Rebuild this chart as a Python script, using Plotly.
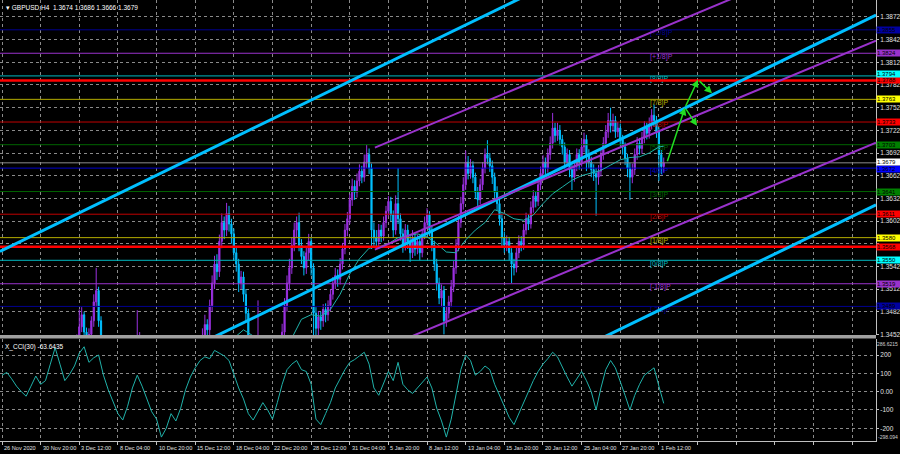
import plotly.graph_objects as go

# ---------------- data ----------------
symbol_title = "\u25be GBPUSD,H4  1.3674 1.3686 1.3666 1.3679"
cci_title = "X_CCI(30) -63.6435"

first_open = 1.3338
closes = [
    1.3345, 1.3352, 1.3340, 1.3348, 1.3336, 1.3328, 1.3322, 1.3330, 1.3318, 1.3305,
    1.3312, 1.3320, 1.3340, 1.3365, 1.3380, 1.3372, 1.3350, 1.3335, 1.3348, 1.3370,
    1.3392, 1.3410, 1.3425, 1.3405, 1.3395, 1.3380, 1.3372, 1.3388, 1.3400, 1.3415,
    1.3430, 1.3445, 1.3462, 1.3478, 1.3455, 1.3440, 1.3452, 1.3470, 1.3495, 1.3510,
    1.3470, 1.3440, 1.3420, 1.3395, 1.3380, 1.3360, 1.3330, 1.3300, 1.3270, 1.3250,
    1.3280, 1.3310, 1.3345, 1.3370, 1.3395, 1.3410, 1.3440, 1.3446, 1.3405, 1.3370,
    1.3330, 1.3290, 1.3260, 1.3230, 1.3250, 1.3235, 1.3210, 1.3185, 1.3160, 1.3175,
    1.3200, 1.3180, 1.3150, 1.3140, 1.3170, 1.3210, 1.3260, 1.3300, 1.3330, 1.3360,
    1.3385, 1.3410, 1.3435, 1.3448, 1.3465, 1.3458, 1.3490, 1.3520, 1.3545, 1.3535,
    1.3575, 1.3600, 1.3590, 1.3612, 1.3598, 1.3585, 1.3560, 1.3545, 1.3520, 1.3528,
    1.3505, 1.3480, 1.3430, 1.3400, 1.3380, 1.3420, 1.3440, 1.3405, 1.3360, 1.3300,
    1.3250, 1.3210, 1.3190, 1.3250, 1.3310, 1.3380, 1.3455, 1.3490, 1.3520, 1.3540,
    1.3570, 1.3590, 1.3600, 1.3570, 1.3555, 1.3540, 1.3560, 1.3575, 1.3540, 1.3480,
    1.3460, 1.3475, 1.3470, 1.3485, 1.3478, 1.3490, 1.3505, 1.3520, 1.3530, 1.3525,
    1.3545, 1.3565, 1.3590, 1.3605, 1.3630, 1.3648, 1.3640, 1.3655, 1.3668, 1.3660,
    1.3680, 1.3690, 1.3672, 1.3590, 1.3580, 1.3575, 1.3590, 1.3582, 1.3600, 1.3615,
    1.3628, 1.3610, 1.3590, 1.3625, 1.3605, 1.3585, 1.3570, 1.3590, 1.3575, 1.3560,
    1.3580, 1.3565, 1.3575, 1.3560, 1.3585, 1.3600, 1.3610, 1.3590, 1.3570, 1.3545,
    1.3520, 1.3500, 1.3510, 1.3470, 1.3480, 1.3495, 1.3515, 1.3540, 1.3570, 1.3600,
    1.3625, 1.3650, 1.3680, 1.3665, 1.3675, 1.3660, 1.3640, 1.3630, 1.3650, 1.3672,
    1.3690, 1.3685, 1.3675, 1.3660, 1.3640, 1.3625, 1.3605, 1.3580, 1.3570, 1.3575,
    1.3560, 1.3545, 1.3540, 1.3560, 1.3575, 1.3570, 1.3590, 1.3605, 1.3598, 1.3620,
    1.3635, 1.3628, 1.3650, 1.3665, 1.3680, 1.3672, 1.3690, 1.3705, 1.3725, 1.3715,
    1.3722, 1.3710, 1.3700, 1.3680, 1.3690, 1.3670, 1.3660, 1.3675, 1.3690, 1.3680,
    1.3700, 1.3710, 1.3690, 1.3680, 1.3670, 1.3665, 1.3660, 1.3668, 1.3690, 1.3705,
    1.3720, 1.3735, 1.3728, 1.3735, 1.3720, 1.3725, 1.3710, 1.3700, 1.3685, 1.3672,
    1.3660, 1.3670, 1.3690, 1.3705, 1.3698, 1.3712, 1.3725, 1.3718, 1.3730, 1.3742,
    1.3735, 1.3720, 1.3690, 1.3674, 1.3679,
]
highs = [
    1.3352, 1.3360, 1.3358, 1.3355, 1.3353, 1.3341, 1.3334, 1.3337, 1.3336, 1.3324,
    1.3320, 1.3327, 1.3348, 1.3374, 1.3392, 1.3388, 1.3378, 1.3356, 1.3355, 1.3378,
    1.3401, 1.3419, 1.3438, 1.3432, 1.3412, 1.3401, 1.3387, 1.3394, 1.3408, 1.3422,
    1.3437, 1.3452, 1.3485, 1.3488, 1.3482, 1.3461, 1.3460, 1.3476, 1.3505, 1.3540,
    1.3515, 1.3476, 1.3446, 1.3426, 1.3402, 1.3386, 1.3366, 1.3336, 1.3306, 1.3276,
    1.3288, 1.3318, 1.3352, 1.3379, 1.3404, 1.3420, 1.3484, 1.3455, 1.3450, 1.3411,
    1.3377, 1.3336, 1.3297, 1.3266, 1.3258, 1.3257, 1.3241, 1.3216, 1.3191, 1.3183,
    1.3208, 1.3206, 1.3186, 1.3157, 1.3178, 1.3218, 1.3268, 1.3309, 1.3338, 1.3368,
    1.3394, 1.3420, 1.3446, 1.3460, 1.3478, 1.3472, 1.3498, 1.3530, 1.3556, 1.3558,
    1.3584, 1.3612, 1.3608, 1.3626, 1.3622, 1.3605, 1.3592, 1.3568, 1.3552, 1.3536,
    1.3535, 1.3512, 1.3486, 1.3437, 1.3408, 1.3428, 1.3497, 1.3448, 1.3412, 1.3367,
    1.3308, 1.3258, 1.3218, 1.3260, 1.3320, 1.3390, 1.3466, 1.3500, 1.3530, 1.3552,
    1.3580, 1.3600, 1.3608, 1.3613, 1.3578, 1.3562, 1.3568, 1.3585, 1.3580, 1.3546,
    1.3488, 1.3483, 1.3482, 1.3492, 1.3493, 1.3497, 1.3512, 1.3528, 1.3540, 1.3538,
    1.3553, 1.3573, 1.3598, 1.3614, 1.3638, 1.3658, 1.3656, 1.3665, 1.3677, 1.3675,
    1.3690, 1.3703, 1.3698, 1.3678, 1.3600, 1.3590, 1.3598, 1.3597, 1.3608, 1.3622,
    1.3635, 1.3634, 1.3616, 1.3636, 1.3672, 1.3612, 1.3592, 1.3598, 1.3597, 1.3582,
    1.3590, 1.3586, 1.3584, 1.3581, 1.3592, 1.3608, 1.3619, 1.3615, 1.3596, 1.3576,
    1.3552, 1.3527, 1.3518, 1.3516, 1.3489, 1.3503, 1.3524, 1.3549, 1.3578, 1.3609,
    1.3634, 1.3660, 1.3695, 1.3688, 1.3684, 1.3681, 1.3666, 1.3647, 1.3658, 1.3680,
    1.3698, 1.3709, 1.3692, 1.3682, 1.3666, 1.3648, 1.3632, 1.3612, 1.3588, 1.3583,
    1.3581, 1.3566, 1.3552, 1.3568, 1.3583, 1.3582, 1.3598, 1.3613, 1.3611, 1.3628,
    1.3643, 1.3641, 1.3658, 1.3674, 1.3689, 1.3686, 1.3698, 1.3714, 1.3745, 1.3732,
    1.3732, 1.3729, 1.3716, 1.3706, 1.3698, 1.3696, 1.3677, 1.3683, 1.3698, 1.3697,
    1.3710, 1.3719, 1.3716, 1.3697, 1.3687, 1.3677, 1.3672, 1.3676, 1.3698, 1.3713,
    1.3729, 1.3745, 1.3752, 1.3744, 1.3741, 1.3733, 1.3731, 1.3716, 1.3706, 1.3691,
    1.3679, 1.3678, 1.3698, 1.3713, 1.3712, 1.3720, 1.3734, 1.3732, 1.3739, 1.3750,
    1.3756, 1.3741, 1.3726, 1.3696, 1.3686,
]
lows = [
    1.3331, 1.3339, 1.3333, 1.3334, 1.3330, 1.3320, 1.3313, 1.3316, 1.3309, 1.3296,
    1.3299, 1.3306, 1.3314, 1.3334, 1.3358, 1.3363, 1.3342, 1.3326, 1.3329, 1.3342,
    1.3363, 1.3385, 1.3402, 1.3398, 1.3386, 1.3371, 1.3364, 1.3366, 1.3381, 1.3393,
    1.3408, 1.3421, 1.3438, 1.3455, 1.3447, 1.3430, 1.3432, 1.3445, 1.3462, 1.3488,
    1.3462, 1.3430, 1.3410, 1.3386, 1.3371, 1.3350, 1.3320, 1.3290, 1.3258, 1.3225,
    1.3242, 1.3272, 1.3303, 1.3338, 1.3362, 1.3388, 1.3402, 1.3432, 1.3398, 1.3360,
    1.3321, 1.3281, 1.3251, 1.3220, 1.3223, 1.3226, 1.3200, 1.3175, 1.3150, 1.3152,
    1.3168, 1.3171, 1.3141, 1.3134, 1.3133, 1.3163, 1.3203, 1.3252, 1.3292, 1.3322,
    1.3352, 1.3378, 1.3402, 1.3426, 1.3440, 1.3446, 1.3450, 1.3482, 1.3512, 1.3524,
    1.3528, 1.3566, 1.3578, 1.3582, 1.3588, 1.3572, 1.3550, 1.3535, 1.3508, 1.3512,
    1.3495, 1.3468, 1.3418, 1.3390, 1.3368, 1.3372, 1.3412, 1.3396, 1.3350, 1.3290,
    1.3238, 1.3198, 1.3186, 1.3184, 1.3242, 1.3302, 1.3372, 1.3446, 1.3482, 1.3510,
    1.3532, 1.3562, 1.3580, 1.3562, 1.3545, 1.3530, 1.3532, 1.3550, 1.3530, 1.3440,
    1.3432, 1.3450, 1.3458, 1.3462, 1.3468, 1.3470, 1.3483, 1.3498, 1.3512, 1.3515,
    1.3518, 1.3538, 1.3558, 1.3582, 1.3598, 1.3622, 1.3630, 1.3633, 1.3648, 1.3652,
    1.3654, 1.3672, 1.3664, 1.3565, 1.3568, 1.3566, 1.3568, 1.3574, 1.3576, 1.3593,
    1.3608, 1.3602, 1.3580, 1.3584, 1.3598, 1.3576, 1.3560, 1.3563, 1.3565, 1.3548,
    1.3553, 1.3556, 1.3558, 1.3550, 1.3554, 1.3578, 1.3594, 1.3582, 1.3562, 1.3536,
    1.3510, 1.3492, 1.3488, 1.3452, 1.3462, 1.3473, 1.3488, 1.3508, 1.3532, 1.3562,
    1.3593, 1.3617, 1.3643, 1.3657, 1.3658, 1.3652, 1.3631, 1.3621, 1.3624, 1.3643,
    1.3665, 1.3677, 1.3667, 1.3651, 1.3632, 1.3616, 1.3596, 1.3568, 1.3560, 1.3562,
    1.3550, 1.3520, 1.3530, 1.3534, 1.3553, 1.3562, 1.3564, 1.3584, 1.3590, 1.3592,
    1.3613, 1.3620, 1.3622, 1.3643, 1.3658, 1.3664, 1.3666, 1.3683, 1.3698, 1.3706,
    1.3708, 1.3702, 1.3690, 1.3671, 1.3674, 1.3660, 1.3643, 1.3654, 1.3668, 1.3670,
    1.3674, 1.3693, 1.3668, 1.3672, 1.3660, 1.3655, 1.3609, 1.3650, 1.3661, 1.3683,
    1.3698, 1.3712, 1.3719, 1.3720, 1.3712, 1.3713, 1.3702, 1.3690, 1.3676, 1.3660,
    1.3630, 1.3652, 1.3663, 1.3683, 1.3690, 1.3691, 1.3705, 1.3710, 1.3711, 1.3723,
    1.3727, 1.3712, 1.3655, 1.3664, 1.3666,
]
green_body_bars = [33, 36, 57, 84, 85, 95, 99, 124, 131, 133, 134, 139, 146, 156, 157,
                   170, 172, 182, 194, 198, 201, 209, 212, 214, 221, 225, 230, 237, 239,
                   247, 262, 264, 267, 272]

ma_bars = list(range(28, 273, 4)) + [274]
ma_values = [
    1.3350, 1.3375, 1.3400, 1.3420, 1.3425, 1.3415, 1.3400, 1.3390, 1.3385, 1.3360,
    1.3330, 1.3300, 1.3285, 1.3290, 1.3320, 1.3360, 1.3410, 1.3447, 1.3458, 1.3450,
    1.3440, 1.3425, 1.3428, 1.3447, 1.3472, 1.3478, 1.3476, 1.3485, 1.3505, 1.3532,
    1.3552, 1.3566, 1.3568, 1.3572, 1.3580, 1.3583, 1.3585, 1.3581, 1.3572, 1.3561,
    1.3560, 1.3577, 1.3590, 1.3600, 1.3617, 1.3612, 1.3605, 1.3603, 1.3610, 1.3625,
    1.3638, 1.3647, 1.3656, 1.3662, 1.3666, 1.3669, 1.3676, 1.3683, 1.3686, 1.3687,
    1.3692, 1.3700, 1.3701,
]

cci_bars = list(range(0, 275, 2))
cci_values = [
    90, 105, 70, 30, 0, -25, 30, 85, 40, 60,
    150, 240, 150, 60, 95, 140, 210, 245, 160, 185,
    200, 90, 10, -60, -120, -155, -80, 20, 90, 30,
    -40, -110, -150, -248, -200, -120, -160, -90, 10, 80,
    130, 170, 190, 180, 225, 210, 195, 170, 90, 20,
    -40, -120, -155, -110, -60, -100, -150, -60, 40, 120,
    150, 170, 120, 110, 40, -150, -180, -120, -60, 20,
    70, 120, 160, 175, 195, 215, 150, 20, -20, 40,
    110, 60, 160, 40, 10, -10, 20, 50, 80, 20,
    -90, -160, -248, -150, -20, 120, 200, 170, 90, 110,
    140, 120, 40, -20, -80, -140, -180, -120, -60, 10,
    60, 110, 150, 180, 215, 190, 130, 80, 30, 70,
    110, 60, 0, -100, 20, 120, 170, 130, 60, -20,
    -100, -20, 40, 90, 110, 130, 30, -64,
]
cci_levels = [200, 100, 0, -100, -200]
cci_level_labels = ["200", "100", "0.00", "-100", "-200"]
cci_max_label = "286.6215"
cci_min_label = "-298.094"

date_tick_bars = [0, 16, 32, 48, 64, 80, 96, 112, 128, 144, 160, 176, 192, 208, 224, 240, 256, 272]
date_tick_labels = ["26 Nov 2020", "30 Nov 20:00", "3 Dec 12:00", "8 Dec 04:00", "10 Dec 20:00",
                    "15 Dec 12:00", "18 Dec 04:00", "22 Dec 20:00", "28 Dec 12:00", "31 Dec 04:00",
                    "5 Jan 20:00", "8 Jan 12:00", "13 Jan 04:00", "15 Jan 20:00", "20 Jan 12:00",
                    "25 Jan 04:00", "27 Jan 20:00", "1 Feb 12:00"]
grid_bars = date_tick_bars + [288, 304, 320, 336, 352]

price_ticks = [1.3452, 1.3482, 1.3512, 1.3542, 1.3572, 1.3602, 1.3632, 1.3662,
               1.3692, 1.3722, 1.3752, 1.3782, 1.3812, 1.3842, 1.3872]
hidden_price_ticks = [1.3572]   # covered by the 1.3568 level box in the reference

murrey_levels = [1.3855, 1.3824, 1.3794, 1.3763, 1.3733, 1.3703, 1.3672,
                 1.3641, 1.3611, 1.3580, 1.3550, 1.3519, 1.3489]
murrey_names = ["[+2/8]P", "[+1/8]P", "[8/8]P", "[7/8]P", "[6/8]P", "[5/8]P", "[4/8]P",
                "[3/8]P", "[2/8]P", "[1/8]P", "[0/8]P", "[-1/8]P", "[-2/8]P"]
murrey_line_colors = ["#000090", "#9932CC", "#00B8C0", "#B4AC00", "#C00000", "#006400", "#0000CD",
                      "#006400", "#C00000", "#B4AC00", "#00B8C0", "#9932CC", "#000090"]
murrey_box_colors = ["#0000A0", "#9932CC", "#00FFFF", "#FFFF00", "#FF0000", "#008000", "#0000FF",
                     "#008000", "#FF0000", "#FFFF00", "#00FFFF", "#9932CC", "#0000A0"]

sr_levels = [1.3788, 1.3568]
last_price = 1.3679

cyan_anchor_bar, cyan_anchor_price, cyan_slope, cyan_half = 119.3, 1.34975, 0.0001554, 0.0251
purple_start_bar, purple_anchor_bar, purple_anchor_price = 154.4, 218.6, 1.36497
purple_slope, purple_half = 0.0001333, 0.0135

forecast_from_bar = [275.3, 282.8, 282.8, 288.2]
forecast_from_price = [1.3679, 1.3752, 1.3752, 1.3789]
forecast_to_bar = [282.8, 287.8, 288.2, 294.0]
forecast_to_price = [1.3752, 1.3728, 1.3789, 1.3771]

# ---------------- layout constants ----------------
W, H = 900, 454
FONT = "Liberation Sans, Arial, sans-serif"
PURPLE = "#9B30E0"
CYAN = "#00BFFF"
GREEN = "#3CD23C"
TEAL = "#20B2AA"
GRID = "#8a8a8a"
AX = "#c0c0c0"
X_MIN, X_MAX = -0.83, 361.9
P_MIN, P_MAX = 1.345117, 1.389446
C_MIN, C_MAX = -269.3, 287.3
XR = 876 / W


def py(ypix):
    return (H - ypix) / H


bars = list(range(len(closes)))
opens = [first_open] + closes[:-1]

fig = go.Figure()

# Murrey math level lines (under the candles)
for lvl, col in zip(murrey_levels, murrey_line_colors):
    fig.add_trace(go.Scatter(x=[X_MIN, X_MAX], y=[lvl, lvl], mode="lines",
                             line=dict(color=col, width=1), hoverinfo="skip",
                             xaxis="x", yaxis="y"))
fig.add_trace(go.Scatter(x=[X_MIN, X_MAX], y=[last_price, last_price], mode="lines",
                         line=dict(color="#8c8c8c", width=1), hoverinfo="skip"))

# Murrey text labels
label_bar = 268.3
fig.add_trace(go.Scatter(x=[label_bar] * len(murrey_levels), y=murrey_levels, mode="text",
                         text=murrey_names, textposition="bottom right",
                         textfont=dict(color=murrey_line_colors, size=7, family=FONT),
                         hoverinfo="skip"))

# candles
fig.add_trace(go.Candlestick(
    x=bars, open=opens, high=highs, low=lows, close=closes,
    increasing=dict(line=dict(color=PURPLE, width=1), fillcolor=PURPLE),
    decreasing=dict(line=dict(color=CYAN, width=1), fillcolor=CYAN),
    whiskerwidth=0, hoverinfo="skip", xaxis="x", yaxis="y"))

g_base = [min(opens[i], closes[i]) for i in green_body_bars]
g_h = [max(abs(closes[i] - opens[i]), 0.0002) for i in green_body_bars]
fig.add_trace(go.Bar(x=green_body_bars, base=g_base, y=g_h, width=0.6,
                     marker=dict(color=GREEN, line=dict(width=0)), hoverinfo="skip",
                     xaxis="x", yaxis="y"))

# moving average
fig.add_trace(go.Scatter(x=ma_bars, y=ma_values, mode="lines",
                         line=dict(color=TEAL, width=1), hoverinfo="skip"))

# thick red support/resistance
for lvl in sr_levels:
    fig.add_trace(go.Scatter(x=[X_MIN, X_MAX], y=[lvl, lvl], mode="lines",
                             line=dict(color="#FF0000", width=2.5), hoverinfo="skip"))

# cyan regression channel
for k in (-1, 0, 1):
    ys = [cyan_anchor_price + (xx - cyan_anchor_bar) * cyan_slope + k * cyan_half for xx in (X_MIN, X_MAX)]
    fig.add_trace(go.Scatter(x=[X_MIN, X_MAX], y=ys, mode="lines",
                             line=dict(color=CYAN, width=3), hoverinfo="skip"))

# purple channel
for k in (-1, 0, 1):
    ys = [purple_anchor_price + (xx - purple_anchor_bar) * purple_slope + k * purple_half
          for xx in (purple_start_bar, X_MAX)]
    fig.add_trace(go.Scatter(x=[purple_start_bar, X_MAX], y=ys, mode="lines",
                             line=dict(color="#9932CC", width=2), hoverinfo="skip"))

# CCI
fig.add_trace(go.Scatter(x=cci_bars, y=cci_values, mode="lines",
                         line=dict(color=TEAL, width=1), hoverinfo="skip",
                         xaxis="x", yaxis="y2"))

annotations = []
# forecast arrows
for fb, fp, tb, tp in zip(forecast_from_bar, forecast_from_price, forecast_to_bar, forecast_to_price):
    annotations.append(dict(x=tb, y=tp, ax=fb, ay=fp, xref="x", yref="y", axref="x", ayref="y",
                            showarrow=True, arrowhead=2, arrowsize=1, arrowwidth=1.5,
                            arrowcolor="#22DD22", text=""))

# right-hand price boxes (small vertical nudges keep neighbouring boxes readable)
box_list = [(sr_levels[0], "#FF0000"), (sr_levels[1], "#FF0000")] + \
           [(l, c) for l, c in zip(murrey_levels, murrey_box_colors)] + [(last_price, "#FFFFFF")]
nudges = {1.3794: 1.5, 1.3788: 0.5, 1.3679: 1, 1.3672: -1}
for lvl, col in box_list:
    annotations.append(dict(x=XR, y=lvl, xref="paper", yref="y", xanchor="left", yanchor="middle",
                            text=f"{lvl:.4f}", showarrow=False, bgcolor=col, borderpad=0,
                            width=23, height=6, align="left", yshift=nudges.get(lvl, 0),
                            font=dict(color="#000000", size=6, family=FONT)))

# date labels
for b, lab in zip(date_tick_bars, date_tick_labels):
    annotations.append(dict(x=b, y=py(443), xref="x", yref="paper", xanchor="left", yanchor="top",
                            text=lab, showarrow=False, xshift=0,
                            font=dict(color="#e0e0e0", size=5.6, family=FONT)))

annotations.append(dict(x=0.004, y=py(2), xref="paper", yref="paper", xanchor="left", yanchor="top",
                        text=symbol_title, showarrow=False,
                        font=dict(color="#ffffff", size=6.5, family=FONT)))
annotations.append(dict(x=0.003, y=py(341), xref="paper", yref="paper", xanchor="left", yanchor="top",
                        text=cci_title, showarrow=False,
                        font=dict(color="#ffffff", size=6.5, family=FONT)))
annotations.append(dict(x=1.0, y=py(344), xref="paper", yref="paper", xanchor="right",
                        yanchor="middle", text=cci_max_label, showarrow=False,
                        font=dict(color="#d0d0d0", size=5, family=FONT)))
annotations.append(dict(x=1.0, y=py(437), xref="paper", yref="paper", xanchor="right",
                        yanchor="middle", text=cci_min_label, showarrow=False,
                        font=dict(color="#d0d0d0", size=5, family=FONT)))

shapes = [
    dict(type="rect", xref="paper", yref="paper", x0=0, x1=XR, y0=py(338.5), y1=py(335),
         fillcolor="#a0a0a0", line=dict(width=0), layer="above"),
]

fig.update_layout(
    width=W, height=H, margin=dict(l=0, r=0, t=0, b=0),
    paper_bgcolor="#000000", plot_bgcolor="#000000", showlegend=False,
    bargap=0, barmode="overlay",
    xaxis=dict(domain=[0, XR], range=[X_MIN, X_MAX], anchor="y2",
               tickvals=grid_bars, showticklabels=False, ticks="outside", ticklen=3,
               tickcolor=AX, showgrid=True, gridcolor=GRID, griddash="3px,3px", gridwidth=1,
               zeroline=False, showline=True, linecolor=AX, linewidth=1,
               rangeslider=dict(visible=False), fixedrange=True, automargin=False),
    yaxis=dict(domain=[py(335), 1.0], range=[P_MIN, P_MAX], side="right", anchor="x",
               tickvals=price_ticks,
               ticktext=["" if v in hidden_price_ticks else f"{v:.4f}" for v in price_ticks],
               tickfont=dict(color="#e0e0e0", size=6.5, family=FONT),
               ticks="outside", ticklen=2, tickcolor=AX,
               showgrid=True, gridcolor=GRID, griddash="3px,3px", gridwidth=1,
               zeroline=False, showline=True, linecolor=AX, linewidth=1,
               fixedrange=True, automargin=False),
    yaxis2=dict(domain=[py(441), py(339)], range=[C_MIN, C_MAX], side="right", anchor="x",
                tickvals=cci_levels, ticktext=cci_level_labels,
                tickfont=dict(color="#e0e0e0", size=6.5, family=FONT),
                ticks="outside", ticklen=2, tickcolor=AX,
                showgrid=True, gridcolor=GRID, griddash="3px,3px", gridwidth=1,
                zeroline=False, showline=True, linecolor=AX, linewidth=1,
                fixedrange=True, automargin=False),
    annotations=annotations,
    shapes=shapes,
)

fig.write_html(
    "out.html",
    config={"displayModeBar": False, "staticPlot": True},
    post_script="document.body.style.margin='0';document.body.style.overflow='hidden';"
                "document.documentElement.style.background='#000';",
)
